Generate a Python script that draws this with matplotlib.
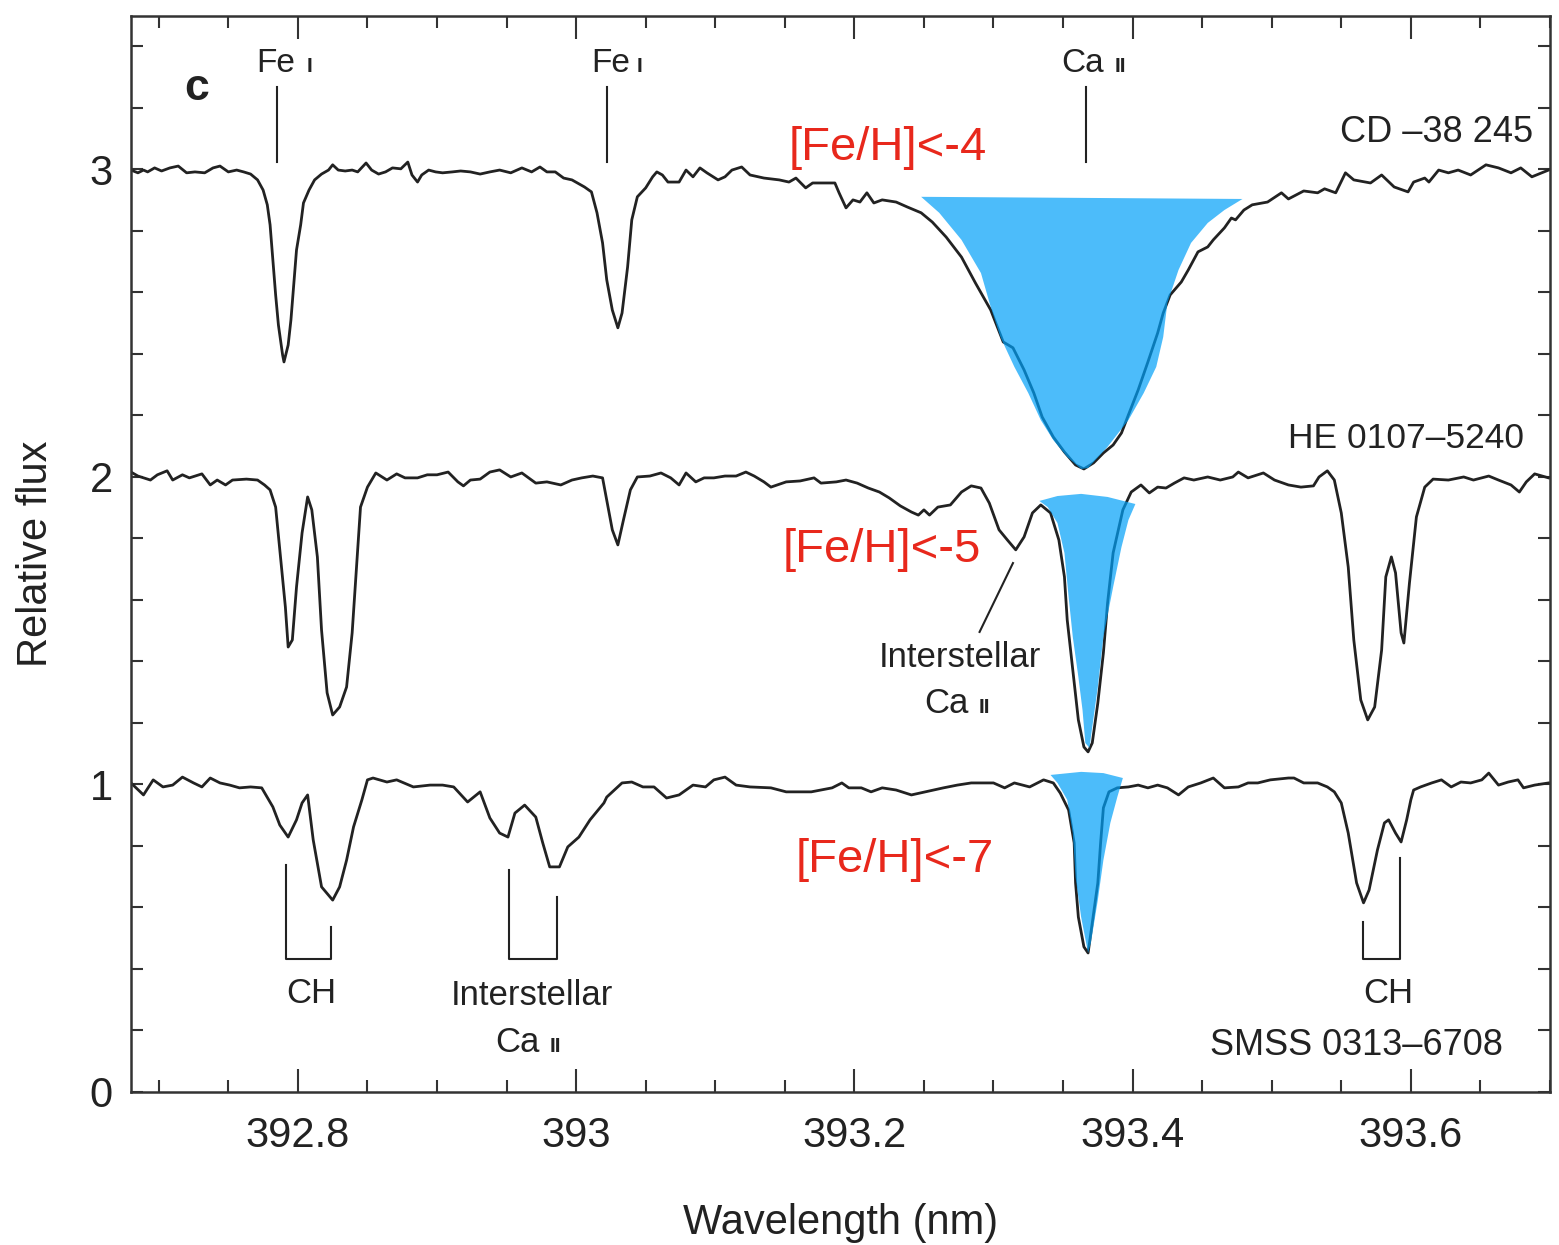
import matplotlib
matplotlib.use("Agg")
import matplotlib.pyplot as plt
from matplotlib.ticker import MultipleLocator

plt.rcParams['font.family'] = ['Liberation Sans', 'DejaVu Sans']

# CD -38 245 (offset by +2)
cd_wl = [392.680, 392.685, 392.689, 392.692, 392.697, 392.702, 392.708, 392.714, 392.720, 392.726,
         392.733, 392.739, 392.744, 392.750, 392.756, 392.761, 392.766, 392.771, 392.775, 392.778,
         392.780, 392.782, 392.784, 392.786, 392.789, 392.790, 392.793, 392.795, 392.797, 392.799,
         392.802, 392.804, 392.808, 392.812, 392.817, 392.822, 392.825, 392.829, 392.834, 392.839,
         392.843, 392.849, 392.853, 392.858, 392.863, 392.868, 392.874, 392.879, 392.882, 392.886,
         392.889, 392.894, 392.899, 392.904, 392.911, 392.917, 392.924, 392.931, 392.938, 392.945,
         392.953, 392.961, 392.968, 392.974, 392.979, 392.985, 392.991, 392.997, 393.006, 393.011,
         393.015, 393.019, 393.022, 393.026, 393.030, 393.033, 393.037, 393.040, 393.044, 393.050,
         393.055, 393.058, 393.062, 393.066, 393.074, 393.079, 393.084, 393.089, 393.094, 393.102,
         393.107, 393.112, 393.119, 393.125, 393.135, 393.146, 393.153, 393.158, 393.165, 393.170,
         393.186, 393.189, 393.194, 393.199, 393.204, 393.209, 393.214, 393.220, 393.230, 393.238,
         393.248, 393.256, 393.266, 393.277, 393.287, 393.298, 393.307, 393.314, 393.322, 393.329,
         393.335, 393.343, 393.351, 393.359, 393.365, 393.372, 393.379, 393.386, 393.392, 393.397,
         393.404, 393.411, 393.418, 393.422, 393.427, 393.435, 393.440, 393.447, 393.454, 393.458,
         393.466, 393.471, 393.474, 393.480, 393.486, 393.497, 393.507, 393.512, 393.523, 393.533,
         393.538, 393.546, 393.553, 393.559, 393.571, 393.579, 393.588, 393.598, 393.602, 393.610,
         393.613, 393.620, 393.627, 393.634, 393.643, 393.654, 393.663, 393.672, 393.679, 393.687,
         393.699]
cd_flux = [2.998, 2.989, 2.998, 2.992, 3.005, 2.995, 3.005, 3.011, 2.989, 2.992,
           2.989, 3.005, 3.011, 2.992, 2.998, 2.992, 2.985, 2.966, 2.933, 2.885,
           2.820, 2.706, 2.592, 2.494, 2.397, 2.374, 2.429, 2.511, 2.624, 2.738,
           2.820, 2.891, 2.933, 2.966, 2.985, 2.998, 3.015, 2.998, 2.995, 2.998,
           2.992, 3.021, 2.998, 2.985, 2.992, 3.005, 3.002, 3.024, 2.982, 2.959,
           2.982, 2.998, 2.992, 2.989, 2.992, 2.995, 2.992, 2.985, 2.992, 2.998,
           2.989, 3.005, 2.992, 3.008, 2.992, 2.992, 2.972, 2.966, 2.943, 2.927,
           2.859, 2.761, 2.641, 2.543, 2.485, 2.533, 2.683, 2.836, 2.911, 2.940,
           2.976, 2.992, 2.982, 2.959, 2.959, 2.998, 2.976, 3.005, 2.989, 2.966,
           2.976, 2.998, 3.008, 2.982, 2.972, 2.966, 2.959, 2.972, 2.940, 2.956,
           2.956, 2.924, 2.875, 2.901, 2.894, 2.924, 2.891, 2.901, 2.894, 2.878,
           2.859, 2.829, 2.780, 2.715, 2.631, 2.543, 2.439, 2.420, 2.348, 2.273,
           2.195, 2.130, 2.081, 2.039, 2.026, 2.046, 2.078, 2.104, 2.143, 2.202,
           2.283, 2.374, 2.468, 2.533, 2.592, 2.634, 2.673, 2.732, 2.748, 2.771,
           2.810, 2.842, 2.836, 2.868, 2.885, 2.894, 2.924, 2.904, 2.930, 2.924,
           2.937, 2.924, 2.989, 2.966, 2.956, 2.982, 2.943, 2.927, 2.959, 2.972,
           2.959, 2.998, 2.989, 2.998, 2.982, 3.015, 3.005, 2.989, 3.005, 2.976,
           2.998]

# HE 0107-5240 (offset by +1)
he_wl = [392.680, 392.685, 392.694, 392.699, 392.706, 392.710, 392.717, 392.722, 392.731, 392.737,
         392.742, 392.748, 392.753, 392.763, 392.771, 392.776, 392.780, 392.784, 392.787, 392.791,
         392.793, 392.796, 392.799, 392.803, 392.807, 392.810, 392.814, 392.817, 392.821, 392.825,
         392.830, 392.835, 392.839, 392.843, 392.845, 392.850, 392.856, 392.864, 392.871, 392.877,
         392.886, 392.893, 392.900, 392.908, 392.915, 392.919, 392.924, 392.931, 392.938, 392.945,
         392.953, 392.961, 392.971, 392.979, 392.989, 392.997, 393.004, 393.012, 393.019, 393.022,
         393.026, 393.030, 393.034, 393.039, 393.044, 393.053, 393.061, 393.068, 393.074, 393.079,
         393.086, 393.092, 393.099, 393.107, 393.115, 393.122, 393.128, 393.135, 393.140, 393.151,
         393.161, 393.171, 393.176, 393.187, 393.194, 393.202, 393.210, 393.218, 393.225, 393.233,
         393.241, 393.246, 393.250, 393.254, 393.260, 393.269, 393.277, 393.284, 393.291, 393.297,
         393.304, 393.310, 393.316, 393.322, 393.328, 393.334, 393.341, 393.347, 393.351, 393.353,
         393.357, 393.361, 393.365, 393.368, 393.371, 393.375, 393.379, 393.382, 393.386, 393.393,
         393.399, 393.406, 393.412, 393.418, 393.424, 393.430, 393.437, 393.444, 393.454, 393.463,
         393.472, 393.476, 393.483, 393.494, 393.502, 393.512, 393.521, 393.530, 393.534, 393.540,
         393.545, 393.550, 393.555, 393.559, 393.564, 393.569, 393.574, 393.579, 393.582, 393.586,
         393.589, 393.593, 393.595, 393.599, 393.604, 393.610, 393.616, 393.627, 393.638, 393.645,
         393.656, 393.663, 393.672, 393.678, 393.683, 393.689, 393.699]
he_flux = [2.016, 2.003, 1.990, 2.007, 2.020, 1.990, 2.007, 1.997, 2.010, 1.974,
           1.990, 1.974, 1.990, 1.993, 1.990, 1.974, 1.958, 1.902, 1.763, 1.577,
           1.447, 1.470, 1.642, 1.818, 1.935, 1.893, 1.740, 1.502, 1.298, 1.226,
           1.252, 1.317, 1.493, 1.763, 1.902, 1.967, 2.013, 1.990, 2.010, 1.997,
           1.997, 2.007, 2.007, 2.016, 1.984, 1.971, 1.990, 1.993, 2.016, 2.023,
           2.000, 2.013, 1.980, 1.984, 1.974, 1.990, 1.997, 2.003, 1.997, 1.925,
           1.828, 1.779, 1.860, 1.958, 2.000, 2.003, 2.013, 1.997, 1.974, 2.013,
           1.984, 1.997, 1.997, 2.003, 2.003, 2.016, 2.003, 1.984, 1.967, 1.984,
           1.987, 1.997, 1.980, 1.984, 1.990, 1.980, 1.964, 1.951, 1.932, 1.906,
           1.886, 1.876, 1.893, 1.876, 1.902, 1.909, 1.951, 1.971, 1.964, 1.915,
           1.828, 1.795, 1.763, 1.805, 1.883, 1.909, 1.883, 1.795, 1.675, 1.535,
           1.372, 1.210, 1.122, 1.106, 1.135, 1.265, 1.428, 1.590, 1.753, 1.893,
           1.951, 1.974, 1.948, 1.967, 1.964, 1.980, 1.997, 1.990, 2.000, 1.990,
           2.000, 2.016, 1.997, 2.013, 1.990, 1.974, 1.967, 1.971, 2.000, 2.020,
           1.990, 1.883, 1.707, 1.470, 1.275, 1.210, 1.252, 1.437, 1.675, 1.740,
           1.688, 1.493, 1.460, 1.655, 1.870, 1.967, 1.993, 1.990, 2.000, 1.990,
           2.003, 1.990, 1.974, 1.951, 1.984, 2.010, 1.997]

# SMSS 0313-6708
smss_wl = [392.680, 392.689, 392.696, 392.703, 392.710, 392.717, 392.725, 392.731, 392.737, 392.744,
           392.751, 392.758, 392.766, 392.774, 392.782, 392.787, 392.793, 392.799, 392.803, 392.807,
           392.811, 392.817, 392.825, 392.830, 392.835, 392.840, 392.846, 392.850, 392.854, 392.864,
           392.871, 392.883, 392.895, 392.904, 392.912, 392.922, 392.931, 392.938, 392.945, 392.951,
           392.956, 392.963, 392.971, 392.976, 392.981, 392.988, 392.994, 393.002, 393.010, 393.020,
           393.022, 393.033, 393.040, 393.048, 393.056, 393.065, 393.074, 393.084, 393.093, 393.099,
           393.107, 393.115, 393.125, 393.140, 393.151, 393.169, 393.184, 393.191, 393.196, 393.205,
           393.212, 393.220, 393.230, 393.241, 393.251, 393.264, 393.274, 393.284, 393.300, 393.308,
           393.315, 393.326, 393.336, 393.343, 393.348, 393.354, 393.358, 393.359, 393.361, 393.365,
           393.368, 393.371, 393.375, 393.377, 393.379, 393.383, 393.389, 393.397, 393.404, 393.411,
           393.418, 393.425, 393.433, 393.440, 393.449, 393.458, 393.466, 393.476, 393.483, 393.490,
           393.499, 393.512, 393.516, 393.523, 393.533, 393.540, 393.545, 393.550, 393.555, 393.561,
           393.566, 393.570, 393.576, 393.581, 393.584, 393.589, 393.593, 393.597, 393.600, 393.602,
           393.607, 393.615, 393.622, 393.629, 393.636, 393.643, 393.651, 393.656, 393.663, 393.670,
           393.677, 393.681, 393.689, 393.699]
smss_flux = [1.005, 0.966, 1.015, 0.992, 0.998, 1.024, 1.005, 0.992, 1.021, 1.005,
             0.998, 0.989, 0.992, 0.989, 0.927, 0.868, 0.829, 0.885, 0.940, 0.966,
             0.820, 0.667, 0.624, 0.667, 0.754, 0.862, 0.950, 1.015, 1.021, 1.008,
             1.015, 0.992, 0.998, 0.998, 0.992, 0.943, 0.976, 0.891, 0.842, 0.829,
             0.907, 0.933, 0.894, 0.810, 0.732, 0.732, 0.797, 0.829, 0.885, 0.940,
             0.959, 1.005, 1.008, 0.992, 0.992, 0.956, 0.966, 0.998, 0.992, 1.015,
             1.024, 0.998, 0.992, 0.989, 0.976, 0.976, 0.989, 1.005, 0.989, 0.989,
             0.976, 0.989, 0.982, 0.966, 0.976, 0.989, 0.998, 1.005, 1.005, 0.989,
             1.005, 0.992, 1.015, 1.005, 0.972, 0.917, 0.810, 0.680, 0.569, 0.472,
             0.452, 0.550, 0.680, 0.810, 0.924, 0.976, 0.989, 0.992, 0.998, 0.989,
             0.998, 0.989, 0.966, 0.992, 1.005, 1.021, 0.989, 0.992, 1.005, 1.005,
             1.015, 1.021, 1.021, 1.005, 1.005, 0.992, 0.976, 0.940, 0.842, 0.680,
             0.615, 0.657, 0.787, 0.875, 0.885, 0.842, 0.813, 0.885, 0.950, 0.982,
             0.992, 1.005, 1.015, 0.992, 1.008, 1.005, 1.015, 1.037, 0.998, 1.008,
             1.015, 0.989, 0.998, 1.005]

# highlighted Ca II K profiles (outline of each blue shape)
k4_wl = [393.248, 393.261, 393.277, 393.291, 393.298, 393.305, 393.315, 393.325, 393.334, 393.343,
         393.353, 393.363, 393.368, 393.382, 393.397, 393.408, 393.417, 393.422, 393.425, 393.433,
         393.442, 393.454, 393.466, 393.479]
k4_flux = [2.911, 2.859, 2.771, 2.663, 2.553, 2.455, 2.358, 2.273, 2.185, 2.120,
           2.065, 2.026, 2.029, 2.098, 2.185, 2.273, 2.358, 2.455, 2.566, 2.673,
           2.761, 2.826, 2.868, 2.904]
k5_wl = [393.333, 393.346, 393.363, 393.382, 393.402, 393.397, 393.392, 393.386, 393.379, 393.375,
         393.370, 393.369, 393.366, 393.364, 393.361, 393.357, 393.354, 393.351, 393.346, 393.339]
k5_flux = [1.922, 1.938, 1.945, 1.935, 1.912, 1.860, 1.772, 1.642, 1.480, 1.317,
           1.154, 1.119, 1.135, 1.242, 1.350, 1.480, 1.610, 1.753, 1.850, 1.902]
k7_wl = [393.341, 393.363, 393.379, 393.393, 393.389, 393.384, 393.379, 393.375, 393.370, 393.368,
         393.363, 393.359, 393.357, 393.353, 393.346]
k7_flux = [1.031, 1.041, 1.037, 1.021, 0.959, 0.875, 0.754, 0.624, 0.485, 0.452,
           0.569, 0.699, 0.842, 0.950, 1.005]

ink = '#222222'
red = '#e8281c'

fig = plt.figure(figsize=(15.59, 12.45), dpi=100)
ax = fig.add_axes([0.0840, 0.1229, 0.9102, 0.8645])

for wl, fl in [(cd_wl, cd_flux), (he_wl, he_flux), (smss_wl, smss_flux)]:
    ax.plot(wl, fl, color=ink, lw=2.0, solid_joinstyle='round', zorder=2)

for wl, fl in [(k4_wl, k4_flux), (k5_wl, k5_flux), (k7_wl, k7_flux)]:
    ax.fill(wl, fl, color='#00a0f8', alpha=0.7, lw=0, zorder=3)

ax.set_xlim(392.68, 393.70)
ax.set_ylim(0, 3.5)
ax.xaxis.set_minor_locator(MultipleLocator(0.05))
ax.yaxis.set_major_locator(MultipleLocator(1))
ax.yaxis.set_minor_locator(MultipleLocator(0.2))
ax.set_xticks([392.8, 393.0, 393.2, 393.4, 393.6])
ax.set_xticklabels(['392.8', '393', '393.2', '393.4', '393.6'])
ax.tick_params(which='both', direction='in', top=True, right=True,
               color='#333333', width=1.5, labelsize=30, labelcolor=ink)
ax.tick_params(axis='x', which='major', length=16.5, pad=17)
ax.tick_params(axis='x', which='minor', length=8.5)
ax.tick_params(axis='y', which='both', length=8.5, pad=13)
for sp in ax.spines.values():
    sp.set_linewidth(1.8)
    sp.set_color('#333333')

ax.set_xlabel('Wavelength (nm)', fontsize=30, color=ink, labelpad=34)
ax.set_ylabel('Relative flux', fontsize=30, color=ink, labelpad=24)

# panel letter
ax.text(392.727, 3.262, 'c', fontsize=32, fontweight='bold', ha='center', va='center', color=ink)

# ion markers at top
lab = dict(fontsize=24, color=ink, va='baseline')
small = dict(fontsize=15, fontweight='bold', color=ink, va='baseline')
for xl, xr, xs, name, num in [(392.785, 392.798, 392.806, 'Fe', 'I'),
                               (393.0224, 393.039, 393.0432, 'Fe', 'I'),
                               (393.3663, 393.379, 393.387, 'Ca', 'II')]:
    ax.plot([xl, xl], [3.024, 3.268], color=ink, lw=1.5)
    ax.text(xr, 3.317, name, ha='right', **lab)
    ax.text(xs, 3.317, num, ha='left', **small)

# star names
ax.text(393.688, 3.089, 'CD \u201338 245', fontsize=26, ha='right', va='baseline', color=ink)
ax.text(393.6815, 2.094, 'HE 0107\u20135240', fontsize=25.5, ha='right', va='baseline', color=ink)
ax.text(393.666, 0.120, 'SMSS 0313\u20136708', fontsize=26, ha='right', va='baseline', color=ink)

# metallicity labels
ax.text(393.224, 3.031, '[Fe/H]<-4', fontsize=34, color=red, ha='center', va='baseline')
ax.text(393.220, 1.724, '[Fe/H]<-5', fontsize=34, color=red, ha='center', va='baseline')
ax.text(393.229, 0.715, '[Fe/H]<-7', fontsize=34, color=red, ha='center', va='baseline')

# interstellar Ca II in HE 0107-5240
ax.plot([393.314, 393.290], [1.720, 1.496], color=ink, lw=1.5)
ax.text(393.276, 1.382, 'Interstellar', fontsize=25, ha='center', va='baseline', color=ink)
ax.text(393.282, 1.233, 'Ca', fontsize=25, ha='right', va='baseline', color=ink)
ax.text(393.289, 1.233, 'II', fontsize=15, fontweight='bold', ha='left', va='baseline', color=ink)

# brackets under SMSS 0313-6708
for x1, x2, y1, y2 in [(392.7915, 392.8239, 0.738, 0.537),
                       (392.952, 392.986, 0.722, 0.634),
                       (393.5656, 393.5922, 0.553, 0.761)]:
    ax.plot([x1, x1, x2, x2], [y1, 0.433, 0.433, y2], color=ink, lw=1.5)
ax.text(392.810, 0.289, 'CH', fontsize=25, ha='center', va='baseline', color=ink)
ax.text(393.584, 0.289, 'CH', fontsize=25, ha='center', va='baseline', color=ink)
ax.text(392.9685, 0.283, 'Interstellar', fontsize=25, ha='center', va='baseline', color=ink)
ax.text(392.974, 0.130, 'Ca', fontsize=25, ha='right', va='baseline', color=ink)
ax.text(392.981, 0.130, 'II', fontsize=15, fontweight='bold', ha='left', va='baseline', color=ink)

fig.savefig('out.png', dpi=100)
